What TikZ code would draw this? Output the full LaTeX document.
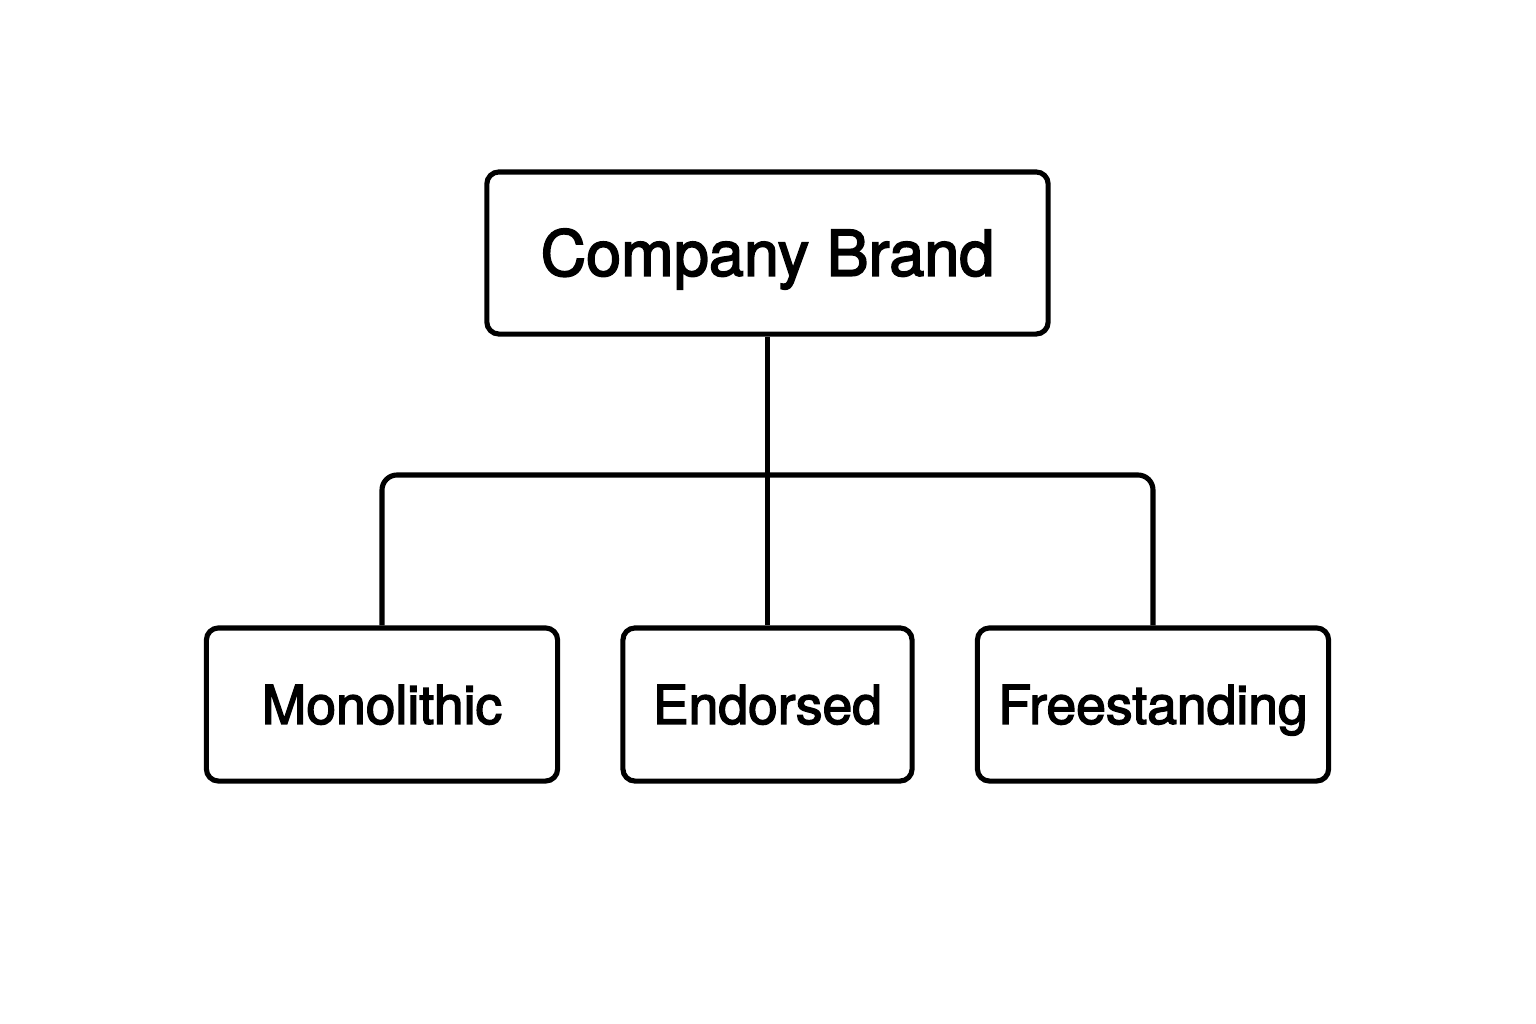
\documentclass[tikz,border=0pt]{standalone}
\usepackage{fontspec}
\setmainfont{TeX Gyre Heros}[FakeBold=2.6]
\begin{document}
\begin{tikzpicture}[x=0.01cm,y=-0.01cm,
  box/.style={draw=black, line width=1.45pt, rounded corners=0.12cm, fill=white,
    inner sep=0pt, text depth=0pt, align=center},
  topbox/.style={box, minimum width=5.61cm, minimum height=1.62cm, text height=12.9pt, font=\fontsize{17.9}{21}\selectfont},
  subbox/.style={box, minimum height=1.53cm, text height=11pt, font=\fontsize{15.2}{18}\selectfont},
  link/.style={draw=black, line width=1.45pt}]
\useasboundingbox[fill=white] (0,0) rectangle (1536,1024);
\node[topbox] (top) at (767.5,253) {Company Brand};
\node[subbox, minimum width=3.51cm] (mono) at (382,704.5) {Monolithic};
\node[subbox, minimum width=2.89cm] (endo) at (767.5,704.5) {Endorsed};
\node[subbox, minimum width=3.51cm] (free) at (1153,704.5) {Freestanding};
\coordinate (j) at (767.5,475);
\draw[link] (top.south) -- (endo.north);
\draw[link, rounded corners=0.15cm] (mono.north) |- (j) -| (free.north);
\end{tikzpicture}
\end{document}
